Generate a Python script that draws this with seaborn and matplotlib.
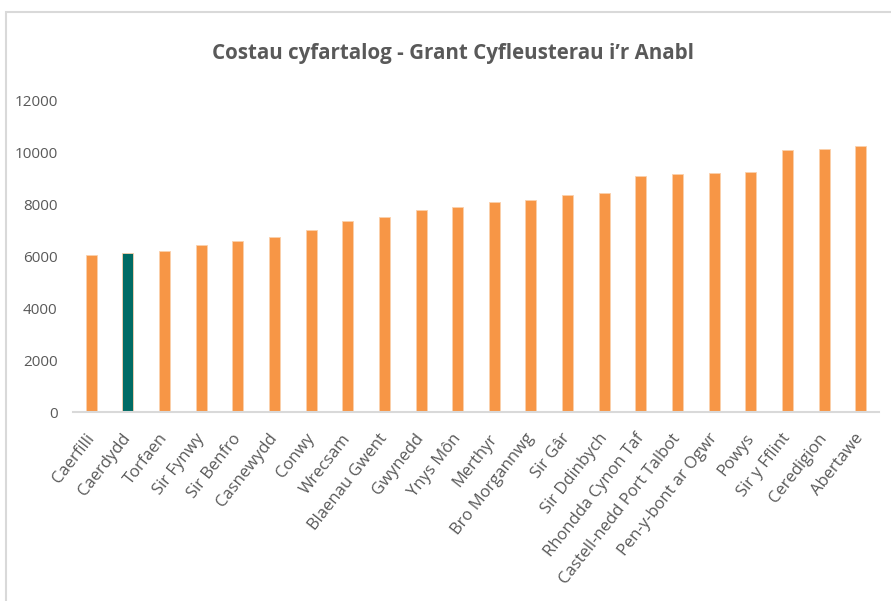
import matplotlib
matplotlib.use("Agg")
import matplotlib.pyplot as plt
import seaborn as sns
from matplotlib.patches import Rectangle

# data
siroedd = ["Caerfilli", "Caerdydd", "Torfaen", "Sir Fynwy", "Sir Benfro", "Casnewydd",
           "Conwy", "Wrecsam", "Blaenau Gwent", "Gwynedd", "Ynys Môn", "Merthyr",
           "Bro Morgannwg", "Sir Gâr", "Sir Ddinbych", "Rhondda Cynon Taf",
           "Castell-nedd Port Talbot", "Pen-y-bont ar Ogwr", "Powys", "Sir y Fflint",
           "Ceredigion", "Abertawe"]
costau = [6040, 6110, 6190, 6420, 6590, 6720, 7000, 7330, 7500, 7770, 7900, 8080,
          8150, 8330, 8420, 9060, 9150, 9190, 9240, 10060, 10100, 10240]
amlygu = "Caerdydd"

oren = "#F79646"
gwyrdd = "#006B64"
lliwiau = {s: (gwyrdd if s == amlygu else oren) for s in siroedd}

sns.set_theme(style="white")
plt.rcParams["font.family"] = ["Open Sans", "DejaVu Sans"]

fig = plt.figure(figsize=(8.91, 6.01), dpi=100)
ax = fig.add_axes([73 / 891, 1 - 412 / 601, (879 - 73) / 891, 312 / 601])

sns.barplot(x=siroedd, y=costau, hue=siroedd, palette=lliwiau, legend=False,
            width=0.3, saturation=1, ax=ax, edgecolor="#FBD0AC", linewidth=0.6)

ax.set_ylim(0, 12000)
ax.set_yticks(range(0, 12001, 2000))
ax.set_xlim(-0.5, len(siroedd) - 0.5)
ax.set_xlabel("")
ax.set_ylabel("")
for s in ["top", "right", "left"]:
    ax.spines[s].set_visible(False)
ax.spines["bottom"].set_color("#D9D9D9")
ax.spines["bottom"].set_linewidth(1.5)
ax.tick_params(axis="y", length=0, pad=11, labelsize=11, labelcolor="#595959")
ax.tick_params(axis="x", length=0, pad=17, labelsize=12, labelcolor="#595959")
plt.setp(ax.get_xticklabels(), rotation=52, ha="right", va="center",
         rotation_mode="anchor")

fig.text(453 / 891, 1 - 53 / 601, "Costau cyfartalog - Grant Cyfleusterau i’r Anabl",
         ha="center", va="center", fontsize=14.8, fontweight="bold", color="#595959")

# chart frame (top and left edges visible in the reference)
fig.patches.append(Rectangle((6 / 891, -0.05), 1.0, 1 - 12 / 601 + 0.05,
                             transform=fig.transFigure, fill=False,
                             edgecolor="#D9D9D9", linewidth=1.5))

fig.savefig("out.png", dpi=100)
